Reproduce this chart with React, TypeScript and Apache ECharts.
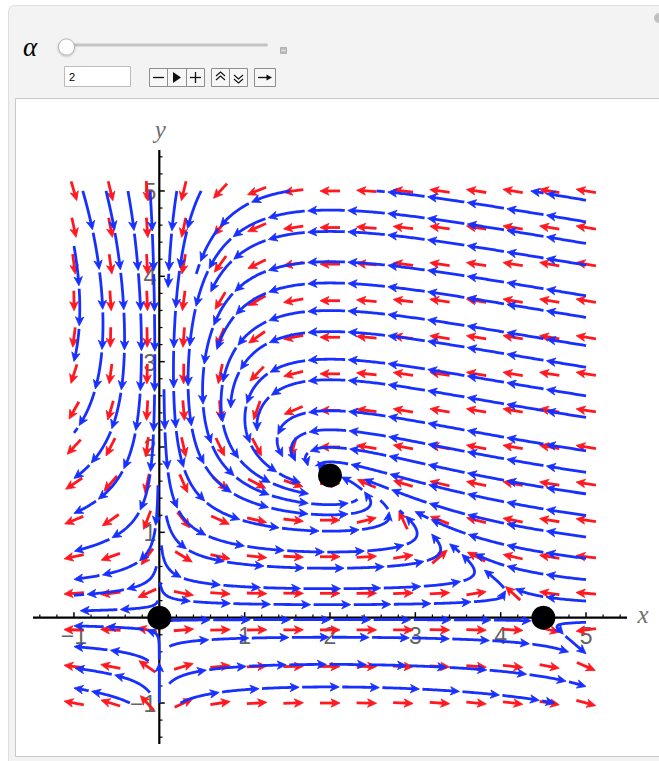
import React, { useEffect, useRef } from 'react';
import * as echarts from 'echarts';

// ---------- values ----------
const alphaValue = 2;
const axisMin = -1.48;
const axisMax = 5.48;
const majorTicks = [-1, 0, 1, 2, 3, 4, 5];
const minorTicks = [-1.4, -1.2, -0.8, -0.6, -0.4, -0.2, 0.2, 0.4, 0.6, 0.8, 1.2, 1.4, 1.6, 1.8, 2.2, 2.4, 2.6, 2.8, 3.2, 3.4, 3.6, 3.8, 4.2, 4.4, 4.6, 4.8, 5.2, 5.4];
const xTickValues = [-1, 1, 2, 3, 4, 5];
const xTickLabels = ['\u22121', '1', '2', '3', '4', '5'];
const yTickValues = [-1, 1, 2, 3, 4, 5];
const yTickLabels = ['\u22121', '1', '2', '3', '4', '5'];
const vectorPoints = [-1, -0.5714, -0.1429, 0.2857, 0.7143, 1.1429, 1.5714, 2, 2.4286, 2.8571, 3.2857, 3.7143, 4.1429, 4.5714, 5];
const equilibria: number[][] = [[0, 0], [2, 1.667], [4.5, 0]];
const streamRegion = [-1, 5];
// model coefficients estimated from the arrows of the picture
const preyCapacity = 4.5;
const predationCoef = 0.3333;
const conversionCoef = 0.1;

const RED = 'rgb(255,24,32)';
const BLUE = 'rgb(24,48,255)';

type P = [number, number];

function field(x: number, y: number): P {
  return [x * (1 - x / preyCapacity - predationCoef * y), conversionCoef * y * (x - alphaValue)];
}
function unitDir(x: number, y: number): P | null {
  const [u, v] = field(x, y);
  const m = Math.hypot(u, v);
  if (m < 1e-10) return null;
  return [u / m, v / m];
}
function rk4Step(x: number, y: number, h: number): P | null {
  const k1 = unitDir(x, y); if (!k1) return null;
  const k2 = unitDir(x + (h / 2) * k1[0], y + (h / 2) * k1[1]); if (!k2) return null;
  const k3 = unitDir(x + (h / 2) * k2[0], y + (h / 2) * k2[1]); if (!k3) return null;
  const k4 = unitDir(x + h * k3[0], y + h * k3[1]); if (!k4) return null;
  return [
    x + (h / 6) * (k1[0] + 2 * k2[0] + 2 * k3[0] + k4[0]),
    y + (h / 6) * (k1[1] + 2 * k2[1] + 2 * k3[1] + k4[1]),
  ];
}

function buildStreamlines(): P[][] {
  const DSEP = 0.25, DTEST = 0.11, H = 0.02, LAG = 0.6, EQ_R = 0.12;
  const lo = streamRegion[0], hi = streamRegion[1];
  const CELL = DSEP;
  const cells = new Map<number, P[]>();
  const cellOf = (v: number) => Math.floor((v - lo) / CELL) + 3;
  const key = (i: number, j: number) => i * 1000 + j;
  const addPt = (p: P) => {
    const k = key(cellOf(p[0]), cellOf(p[1]));
    let a = cells.get(k);
    if (!a) { a = []; cells.set(k, a); }
    a.push(p);
  };
  const isFree = (p: P, r: number) => {
    const ci = cellOf(p[0]), cj = cellOf(p[1]);
    for (let di = -1; di <= 1; di++) for (let dj = -1; dj <= 1; dj++) {
      const a = cells.get(key(ci + di, cj + dj));
      if (!a) continue;
      for (const q of a) {
        const dx = q[0] - p[0], dy = q[1] - p[1];
        if (dx * dx + dy * dy < r * r) return false;
      }
    }
    return true;
  };
  const inside = (p: P) => p[0] >= lo && p[0] <= hi && p[1] >= lo && p[1] <= hi;
  const nearEq = (p: P) => equilibria.some((e) => Math.hypot(p[0] - e[0], p[1] - e[1]) < EQ_R);
  const clipT = (p: P, q: P) => {
    let t = 1;
    for (let c = 0; c < 2; c++) {
      if (q[c] > hi) t = Math.min(t, (hi - p[c]) / (q[c] - p[c]));
      if (q[c] < lo) t = Math.min(t, (lo - p[c]) / (q[c] - p[c]));
    }
    return Math.max(0, t);
  };

  const trace = (seed: P, sign: number, own: { p: P; s: number }[]) => {
    const out: P[] = [];
    let p = seed;
    let s = 0;
    for (let step = 0; step < 3000; step++) {
      const q = rk4Step(p[0], p[1], sign * H);
      if (!q) break;
      if (!inside(q)) {
        const t = clipT(p, q);
        out.push([p[0] + (q[0] - p[0]) * t, p[1] + (q[1] - p[1]) * t]);
        break;
      }
      if (nearEq(q)) break;
      if (!isFree(q, DTEST)) break;
      s += H;
      let hit = false;
      for (const o of own) {
        if (s - o.s > LAG) {
          const dx = o.p[0] - q[0], dy = o.p[1] - q[1];
          if (dx * dx + dy * dy < DTEST * DTEST) { hit = true; break; }
        }
      }
      if (hit) break;
      out.push(q);
      if (step % 3 === 0) own.push({ p: q, s });
      p = q;
    }
    return out;
  };

  const lines: P[][] = [];
  const queue: P[] = [];
  const trySeed = (seed: P) => {
    if (!inside(seed) || nearEq(seed) || !isFree(seed, DSEP)) return;
    if (!unitDir(seed[0], seed[1])) return;
    const ownF: { p: P; s: number }[] = [];
    const fwd = trace(seed, 1, ownF);
    const ownB = ownF.map((o) => ({ p: o.p, s: -o.s }));
    const bwd = trace(seed, -1, ownB);
    const line: P[] = [...bwd.reverse(), seed, ...fwd];
    if (line.length * H < 0.15) return;
    line.forEach(addPt);
    lines.push(line);
    for (let i = 0; i < line.length; i += 4) {
      const d = unitDir(line[i][0], line[i][1]);
      if (!d) continue;
      queue.push([line[i][0] - d[1] * DSEP, line[i][1] + d[0] * DSEP]);
      queue.push([line[i][0] + d[1] * DSEP, line[i][1] - d[0] * DSEP]);
    }
  };
  queue.push([4.95, 4.9]);
  while (queue.length) trySeed(queue.shift() as P);
  for (let gx = lo + 0.05; gx < hi; gx += 0.1) {
    for (let gy = lo + 0.05; gy < hi; gy += 0.1) {
      trySeed([gx, gy]);
      while (queue.length) trySeed(queue.shift() as P);
    }
  }
  return lines;
}

type Piece = { pts: P[]; head: boolean };
function cutPieces(lines: P[][]): Piece[] {
  const PIECE = 0.47, GAP = 0.035;
  const pieces: Piece[] = [];
  for (const line of lines) {
    const cum = [0];
    for (let i = 1; i < line.length; i++) cum.push(cum[i - 1] + Math.hypot(line[i][0] - line[i - 1][0], line[i][1] - line[i - 1][1]));
    const total = cum[cum.length - 1];
    const at = (s: number): P => {
      let i = 1;
      while (i < cum.length - 1 && cum[i] < s) i++;
      const t = (s - cum[i - 1]) / Math.max(1e-12, cum[i] - cum[i - 1]);
      return [line[i - 1][0] + (line[i][0] - line[i - 1][0]) * t, line[i - 1][1] + (line[i][1] - line[i - 1][1]) * t];
    };
    for (let k = 0; k * PIECE < total; k++) {
      const a = k === 0 ? 0 : k * PIECE + GAP;
      const b = Math.min((k + 1) * PIECE, total);
      if (b - a < 0.06) continue;
      const pts: P[] = [at(a)];
      for (let i = 0; i < line.length; i++) if (cum[i] > a && cum[i] < b) pts.push(line[i]);
      pts.push(at(b));
      pieces.push({ pts, head: b - a > 0.14 });
    }
  }
  return pieces;
}

function arrowShape(pts: number[][], head: boolean, color: string, lw: number, hl: number, hw: number) {
  const n = pts.length;
  if (!head || n < 2) {
    return { type: 'polyline', shape: { points: pts }, style: { stroke: color, lineWidth: lw, fill: 'none' } };
  }
  const tip = pts[n - 1];
  let acc = 0;
  let back = pts[n - 2];
  for (let i = n - 2; i >= 0; i--) {
    acc += Math.hypot(pts[i + 1][0] - pts[i][0], pts[i + 1][1] - pts[i][1]);
    back = pts[i];
    if (acc >= hl) break;
  }
  let dx = tip[0] - back[0], dy = tip[1] - back[1];
  const m = Math.hypot(dx, dy) || 1;
  dx /= m; dy /= m;
  const nx = -dy, ny = dx;
  const notchDepth = hl - 2.5;
  const notch = [tip[0] - dx * notchDepth, tip[1] - dy * notchDepth];
  const line: number[][] = [];
  let rem = 0;
  for (let i = n - 1; i > 0; i--) {
    rem += Math.hypot(pts[i][0] - pts[i - 1][0], pts[i][1] - pts[i - 1][1]);
    if (rem > notchDepth) { for (let j = 0; j < i; j++) line.push(pts[j]); break; }
  }
  line.push(notch);
  const headPts = [
    tip,
    [tip[0] - dx * hl + nx * hw, tip[1] - dy * hl + ny * hw],
    notch,
    [tip[0] - dx * hl - nx * hw, tip[1] - dy * hl - ny * hw],
  ];
  const children: any[] = [];
  if (line.length >= 2) children.push({ type: 'polyline', shape: { points: line }, style: { stroke: color, lineWidth: lw, fill: 'none' } });
  children.push({ type: 'polygon', shape: { points: headPts }, style: { fill: color, stroke: color, lineWidth: 0.8, lineJoin: 'round' } });
  return { type: 'group', children };
}

function buildOption() {
  const lines = buildStreamlines();
  const pieces = cutPieces(lines);
  const pieceData = pieces.map((p, i) => [p.pts[0][0], p.pts[0][1], i]);
  const vectorData: number[][] = [];
  for (const gx of vectorPoints) for (const gy of vectorPoints) vectorData.push([gx, gy]);

  const txt = (x: number, y: number, text: string, align: string, extra: any = {}) => ({
    type: 'text',
    x, y,
    style: {
      text, align, textAlign: align, verticalAlign: 'middle', textVerticalAlign: 'middle',
      fontSize: 23, fontFamily: 'Liberation Sans, Arial, sans-serif', fill: '#646464', ...extra,
    },
  });
  const seg = (a: number[], b: number[], w: number, c = '#000') => ({
    type: 'line', shape: { x1: a[0], y1: a[1], x2: b[0], y2: b[1] }, style: { stroke: c, lineWidth: w },
  });

  const renderAxes = (params: any, api: any) => {
    const ch: any[] = [];
    ch.push(seg(api.coord([axisMin, 0]), api.coord([axisMax, 0]), 2.2));
    ch.push(seg(api.coord([0, axisMin]), api.coord([0, axisMax]), 2.2));
    for (const t of majorTicks) {
      const p = api.coord([t, 0]);
      ch.push(seg(p, [p[0], p[1] - 5.5], 1.5));
      const q = api.coord([0, t]);
      ch.push(seg(q, [q[0] + 5.5, q[1]], 1.5));
    }
    for (const t of minorTicks) {
      const p = api.coord([t, 0]);
      ch.push(seg(p, [p[0], p[1] - 3.2], 1.2));
      const q = api.coord([0, t]);
      ch.push(seg(q, [q[0] + 3.2, q[1]], 1.2));
    }
    xTickValues.forEach((t, i) => {
      const p = api.coord([t, 0]);
      ch.push(txt(p[0], p[1] + 18, xTickLabels[i], 'center'));
    });
    yTickValues.forEach((t, i) => {
      const p = api.coord([0, t]);
      ch.push(txt(p[0] - 3, p[1] + 1, yTickLabels[i], 'right'));
    });
    const xe = api.coord([axisMax, 0]);
    ch.push(txt(xe[0] + 16, xe[1] - 3, 'x', 'center', { fontFamily: 'Liberation Serif, DejaVu Serif, serif', fontStyle: 'italic', fontSize: 25, fill: '#707070' }));
    const ye = api.coord([0, axisMax]);
    ch.push(txt(ye[0] + 1, ye[1] - 21, 'y', 'center', { fontFamily: 'Liberation Serif, DejaVu Serif, serif', fontStyle: 'italic', fontSize: 25, fill: '#707070' }));
    return { type: 'group', children: ch };
  };

  const renderVector = (params: any, api: any) => {
    const x = api.value(0), y = api.value(1);
    const c = api.coord([x, y]);
    const d = unitDir(x, y);
    if (!d) return null;
    const c2 = api.coord([x + d[0] * 0.01, y + d[1] * 0.01]);
    let dx = c2[0] - c[0], dy = c2[1] - c[1];
    const m = Math.hypot(dx, dy);
    dx /= m; dy /= m;
    const half = 10;
    const pts = [[c[0] - dx * half, c[1] - dy * half], [c[0] + dx * half, c[1] + dy * half]];
    return arrowShape(pts, true, RED, 2.8, 9, 4.2);
  };

  const renderPiece = (params: any, api: any) => {
    const piece = pieces[api.value(2)];
    const pts = piece.pts.map((p) => api.coord(p));
    return arrowShape(pts, piece.head, BLUE, 2.8, 9, 4.2);
  };

  const g = (el: any) => ({ z: 0, silent: true, ...el });
  const panel: any[] = [
    g({ type: 'rect', shape: { x: 8.5, y: 5.5, width: 700, height: 800, r: 6 }, style: { fill: '#f3f3f3', stroke: '#dedede', lineWidth: 1 } }),
    g({ type: 'rect', shape: { x: 15.5, y: 98.5, width: 700, height: 658 }, style: { fill: '#ffffff', stroke: '#c8c8c8', lineWidth: 1 } }),
    g({ type: 'text', x: 30, y: 47, style: { text: '\u03b1', fontSize: 27, fontStyle: 'italic', fontFamily: 'Liberation Serif, DejaVu Serif, serif', fill: '#000', align: 'center', textAlign: 'center', verticalAlign: 'middle', textVerticalAlign: 'middle' } }),
    g({ type: 'rect', shape: { x: 58, y: 43.5, width: 210, height: 3, r: 1.5 }, style: { fill: '#c4c4c4' } }),
    g({ type: 'circle', shape: { cx: 66.5, cy: 47, r: 8 }, style: { fill: '#ffffff', stroke: '#b4b4b4', lineWidth: 1, shadowBlur: 2, shadowColor: 'rgba(0,0,0,0.25)', shadowOffsetY: 1 } }),
    g({ type: 'rect', shape: { x: 280.5, y: 47.5, width: 6, height: 6 }, style: { fill: '#bdbdbd', stroke: '#b0b0b0', lineWidth: 1 } }),
    g({ type: 'line', shape: { x1: 281.5, y1: 50.5, x2: 285.5, y2: 50.5 }, style: { stroke: '#e6e6e6', lineWidth: 1 } }),
    g({ type: 'rect', shape: { x: 64.5, y: 66.5, width: 66, height: 20 }, style: { fill: '#ffffff', stroke: '#bcbcbc', lineWidth: 1 } }),
    g({ type: 'text', x: 69, y: 77, style: { text: String(alphaValue), fontSize: 11, fontFamily: 'Liberation Sans, Arial, sans-serif', fill: '#000', verticalAlign: 'middle', textVerticalAlign: 'middle' } }),
    g({ type: 'rect', shape: { x: 149.5, y: 68.5, width: 55, height: 18 }, style: { fill: '#f7f7f7', stroke: '#8e8e8e', lineWidth: 1 } }),
    g({ type: 'line', shape: { x1: 167.5, y1: 68.5, x2: 167.5, y2: 86.5 }, style: { stroke: '#8e8e8e', lineWidth: 1 } }),
    g({ type: 'line', shape: { x1: 186.5, y1: 68.5, x2: 186.5, y2: 86.5 }, style: { stroke: '#8e8e8e', lineWidth: 1 } }),
    g({ type: 'line', shape: { x1: 153, y1: 77.5, x2: 164, y2: 77.5 }, style: { stroke: '#111', lineWidth: 1.3 } }),
    g({ type: 'polygon', shape: { points: [[173, 72], [181, 77.5], [173, 83]] }, style: { fill: '#111' } }),
    g({ type: 'line', shape: { x1: 190, y1: 77.5, x2: 201, y2: 77.5 }, style: { stroke: '#111', lineWidth: 1.3 } }),
    g({ type: 'line', shape: { x1: 195.5, y1: 72, x2: 195.5, y2: 83 }, style: { stroke: '#111', lineWidth: 1.3 } }),
    g({ type: 'rect', shape: { x: 211.5, y: 68.5, width: 36, height: 18 }, style: { fill: '#f7f7f7', stroke: '#8e8e8e', lineWidth: 1 } }),
    g({ type: 'line', shape: { x1: 229.5, y1: 68.5, x2: 229.5, y2: 86.5 }, style: { stroke: '#8e8e8e', lineWidth: 1 } }),
    g({ type: 'polyline', shape: { points: [[216, 76], [220.5, 72], [225, 76]] }, style: { stroke: '#111', lineWidth: 1.1, fill: 'none' } }),
    g({ type: 'polyline', shape: { points: [[216, 80], [220.5, 76], [225, 80]] }, style: { stroke: '#111', lineWidth: 1.1, fill: 'none' } }),
    g({ type: 'polyline', shape: { points: [[234, 75], [238.5, 79], [243, 75]] }, style: { stroke: '#111', lineWidth: 1.1, fill: 'none' } }),
    g({ type: 'polyline', shape: { points: [[234, 79], [238.5, 83], [243, 79]] }, style: { stroke: '#111', lineWidth: 1.1, fill: 'none' } }),
    g({ type: 'rect', shape: { x: 254.5, y: 68.5, width: 21, height: 18 }, style: { fill: '#f7f7f7', stroke: '#8e8e8e', lineWidth: 1 } }),
    g({ type: 'line', shape: { x1: 258, y1: 77.5, x2: 268, y2: 77.5 }, style: { stroke: '#111', lineWidth: 1.3 } }),
    g({ type: 'polygon', shape: { points: [[272, 77.5], [266.5, 74.5], [266.5, 80.5]] }, style: { fill: '#111' } }),
    g({ type: 'circle', shape: { cx: 659, cy: 18, r: 5 }, style: { fill: '#c0c0c0' } }),
  ];

  return {
    animation: false,
    backgroundColor: '#ffffff',
    grid: { left: 33, top: 150, width: 594, height: 594, containLabel: false },
    xAxis: { type: 'value', min: axisMin, max: axisMax, show: false },
    yAxis: { type: 'value', min: axisMin, max: axisMax, show: false },
    graphic: { elements: panel },
    series: [
      { type: 'custom', name: 'axes', z: 3, silent: true, data: [[0, 0]], renderItem: renderAxes },
      { type: 'custom', name: 'vectors', z: 4, silent: true, data: vectorData, renderItem: renderVector },
      { type: 'custom', name: 'streamlines', z: 5, silent: true, data: pieceData, renderItem: renderPiece },
      { type: 'scatter', name: 'equilibria', z: 6, silent: true, data: equilibria, symbol: 'circle', symbolSize: 24, itemStyle: { color: '#000000', opacity: 1 } },
    ],
  };
}

export default function App() {
  const ref = useRef<HTMLDivElement>(null);
  useEffect(() => {
    if (!ref.current) return;
    const chart = echarts.init(ref.current, undefined, { renderer: 'svg' });
    chart.setOption(buildOption() as any);
    return () => chart.dispose();
  }, []);
  return <div ref={ref} style={{ position: 'absolute', left: 0, top: 0, width: 659, height: 761 }} />;
}
